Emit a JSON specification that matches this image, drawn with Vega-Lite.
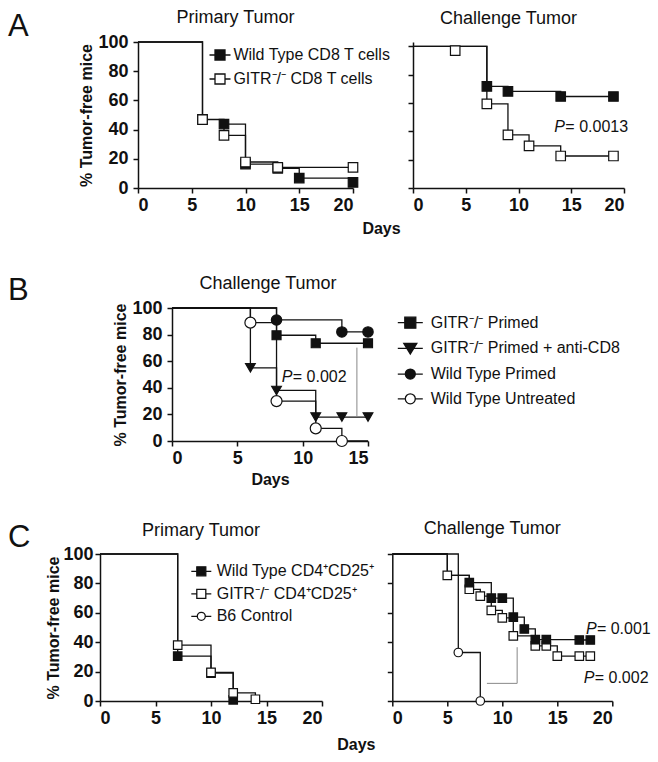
{
"$schema":"https://vega.github.io/schema/vega-lite/v6.json",
"padding":{"left":8,"top":9,"right":5,"bottom":5},
"background":"white",
"config":{
 "view":{"stroke":null},
 "font":"Liberation Sans",
 "axis":{"domainColor":"#111","domainWidth":1.5,"tickColor":"#111","tickWidth":1.5,"tickSize":5,"labelFont":"Liberation Sans","labelFontSize":18,"labelFontWeight":"bold","labelColor":"#111","titleFont":"Liberation Sans","titleFontSize":16,"titleFontWeight":"bold","titleColor":"#111","grid":false,"labelPadding":3},
 "axisY":{"labelPadding":5,"titlePadding":3},
 "title":{"font":"Liberation Sans","fontSize":18,"fontWeight":"normal","color":"#111"},
 "legend":{"labelFont":"Liberation Sans","labelFontSize":16,"labelColor":"#111","symbolStrokeWidth":1.3,"padding":0,"labelLimit":320}
},
"datasets":{
 "aL":[
  {"series":"Wild Type CD8 T cells","day":0,"pct":100,"kind":"ln"},
  {"series":"Wild Type CD8 T cells","day":6,"pct":47,"kind":"both"},
  {"series":"Wild Type CD8 T cells","day":8,"pct":43.8,"kind":"both"},
  {"series":"Wild Type CD8 T cells","day":10,"pct":16.4,"kind":"both"},
  {"series":"Wild Type CD8 T cells","day":13,"pct":13.5,"kind":"both"},
  {"series":"Wild Type CD8 T cells","day":15,"pct":6.8,"kind":"both"},
  {"series":"Wild Type CD8 T cells","day":20,"pct":3.8,"kind":"both"},
  {"series":"GITR⁻/⁻ CD8 T cells","day":0,"pct":100,"kind":"ln"},
  {"series":"GITR⁻/⁻ CD8 T cells","day":6,"pct":46.8,"kind":"both"},
  {"series":"GITR⁻/⁻ CD8 T cells","day":8,"pct":36,"kind":"both"},
  {"series":"GITR⁻/⁻ CD8 T cells","day":10,"pct":17.8,"kind":"both"},
  {"series":"GITR⁻/⁻ CD8 T cells","day":13,"pct":14.1,"kind":"both"},
  {"series":"GITR⁻/⁻ CD8 T cells","day":20,"pct":14.1,"kind":"both"}
 ],
 "aR":[
  {"series":"Wild Type CD8 T cells","day":0,"pct":100,"kind":"ln"},
  {"series":"Wild Type CD8 T cells","day":7,"pct":71.7,"kind":"both"},
  {"series":"Wild Type CD8 T cells","day":9,"pct":68.2,"kind":"both"},
  {"series":"Wild Type CD8 T cells","day":14,"pct":64.6,"kind":"both"},
  {"series":"Wild Type CD8 T cells","day":19,"pct":64.6,"kind":"both"},
  {"series":"GITR⁻/⁻ CD8 T cells","day":0,"pct":100,"kind":"ln"},
  {"series":"GITR⁻/⁻ CD8 T cells","day":4,"pct":97,"kind":"pt"},
  {"series":"GITR⁻/⁻ CD8 T cells","day":7,"pct":59.4,"kind":"both"},
  {"series":"GITR⁻/⁻ CD8 T cells","day":9,"pct":37.5,"kind":"both"},
  {"series":"GITR⁻/⁻ CD8 T cells","day":11,"pct":29.7,"kind":"both"},
  {"series":"GITR⁻/⁻ CD8 T cells","day":14,"pct":22.6,"kind":"both"},
  {"series":"GITR⁻/⁻ CD8 T cells","day":19,"pct":22.6,"kind":"both"}
 ],
 "b":[
  {"series":"GITR⁻/⁻ Primed","day":0,"pct":100,"kind":"ln"},
  {"series":"GITR⁻/⁻ Primed","day":8,"pct":79.5,"kind":"both"},
  {"series":"GITR⁻/⁻ Primed","day":11,"pct":73.5,"kind":"both"},
  {"series":"GITR⁻/⁻ Primed","day":15,"pct":73.5,"kind":"both"},
  {"series":"GITR⁻/⁻ Primed + anti-CD8","day":0,"pct":100,"kind":"ln"},
  {"series":"GITR⁻/⁻ Primed + anti-CD8","day":6,"pct":55,"kind":"both"},
  {"series":"GITR⁻/⁻ Primed + anti-CD8","day":8,"pct":38,"kind":"both"},
  {"series":"GITR⁻/⁻ Primed + anti-CD8","day":11,"pct":18,"kind":"both"},
  {"series":"GITR⁻/⁻ Primed + anti-CD8","day":13,"pct":18,"kind":"both"},
  {"series":"GITR⁻/⁻ Primed + anti-CD8","day":15,"pct":18,"kind":"both"},
  {"series":"Wild Type Primed","day":0,"pct":100,"kind":"ln"},
  {"series":"Wild Type Primed","day":8,"pct":91,"kind":"both"},
  {"series":"Wild Type Primed","day":13,"pct":82,"kind":"both"},
  {"series":"Wild Type Primed","day":15,"pct":82,"kind":"both"},
  {"series":"Wild Type Untreated","day":0,"pct":100,"kind":"ln"},
  {"series":"Wild Type Untreated","day":6,"pct":89,"kind":"both"},
  {"series":"Wild Type Untreated","day":8,"pct":30,"kind":"both"},
  {"series":"Wild Type Untreated","day":11,"pct":9.5,"kind":"both"},
  {"series":"Wild Type Untreated","day":13,"pct":0,"kind":"both"},
  {"series":"Wild Type Untreated","day":15,"pct":0,"kind":"ln"}
 ],
 "cL":[
  {"series":"Wild Type CD4⁺CD25⁺","day":0,"pct":100,"kind":"ln"},
  {"series":"Wild Type CD4⁺CD25⁺","day":7,"pct":30.5,"kind":"both"},
  {"series":"Wild Type CD4⁺CD25⁺","day":10,"pct":19,"kind":"both"},
  {"series":"Wild Type CD4⁺CD25⁺","day":12,"pct":0.8,"kind":"both"},
  {"series":"GITR⁻/⁻ CD4⁺CD25⁺","day":0,"pct":100,"kind":"ln"},
  {"series":"GITR⁻/⁻ CD4⁺CD25⁺","day":7,"pct":38,"kind":"both"},
  {"series":"GITR⁻/⁻ CD4⁺CD25⁺","day":10,"pct":19.5,"kind":"both"},
  {"series":"GITR⁻/⁻ CD4⁺CD25⁺","day":12,"pct":5.5,"kind":"both"},
  {"series":"GITR⁻/⁻ CD4⁺CD25⁺","day":14,"pct":1.2,"kind":"both"}
 ],
 "cR":[
  {"series":"B6 Control","day":0,"pct":100,"kind":"ln"},
  {"series":"B6 Control","day":6,"pct":33,"kind":"both"},
  {"series":"B6 Control","day":8,"pct":0,"kind":"both"},
  {"series":"GITR⁻/⁻ CD4⁺CD25⁺","day":0,"pct":100,"kind":"ln"},
  {"series":"GITR⁻/⁻ CD4⁺CD25⁺","day":5,"pct":85.5,"kind":"both"},
  {"series":"GITR⁻/⁻ CD4⁺CD25⁺","day":7,"pct":76,"kind":"both"},
  {"series":"GITR⁻/⁻ CD4⁺CD25⁺","day":8,"pct":71.3,"kind":"both"},
  {"series":"GITR⁻/⁻ CD4⁺CD25⁺","day":9,"pct":61.6,"kind":"both"},
  {"series":"GITR⁻/⁻ CD4⁺CD25⁺","day":10,"pct":56.6,"kind":"both"},
  {"series":"GITR⁻/⁻ CD4⁺CD25⁺","day":11,"pct":44.3,"kind":"both"},
  {"series":"GITR⁻/⁻ CD4⁺CD25⁺","day":13,"pct":37.5,"kind":"both"},
  {"series":"GITR⁻/⁻ CD4⁺CD25⁺","day":14,"pct":37.5,"kind":"both"},
  {"series":"GITR⁻/⁻ CD4⁺CD25⁺","day":15,"pct":30.5,"kind":"both"},
  {"series":"GITR⁻/⁻ CD4⁺CD25⁺","day":17,"pct":30.5,"kind":"both"},
  {"series":"GITR⁻/⁻ CD4⁺CD25⁺","day":18,"pct":30.5,"kind":"both"},
  {"series":"Wild Type CD4⁺CD25⁺","day":0,"pct":100,"kind":"ln"},
  {"series":"Wild Type CD4⁺CD25⁺","day":5,"pct":85.5,"kind":"ln"},
  {"series":"Wild Type CD4⁺CD25⁺","day":7,"pct":80.5,"kind":"both"},
  {"series":"Wild Type CD4⁺CD25⁺","day":9,"pct":70,"kind":"both"},
  {"series":"Wild Type CD4⁺CD25⁺","day":10,"pct":70,"kind":"both"},
  {"series":"Wild Type CD4⁺CD25⁺","day":11,"pct":57,"kind":"both"},
  {"series":"Wild Type CD4⁺CD25⁺","day":12,"pct":49,"kind":"both"},
  {"series":"Wild Type CD4⁺CD25⁺","day":13,"pct":41.7,"kind":"both"},
  {"series":"Wild Type CD4⁺CD25⁺","day":14,"pct":41.7,"kind":"both"},
  {"series":"Wild Type CD4⁺CD25⁺","day":17,"pct":41.5,"kind":"both"},
  {"series":"Wild Type CD4⁺CD25⁺","day":18,"pct":41.5,"kind":"both"}
 ],
 "pA":[{"day":13.4,"pct":43.4,"rest":"= 0.0013"}],
 "pB":[{"day":8.4,"pct":48,"rest":"= 0.002"}],
 "pC":[{"day":17.6,"pct":48.9,"rest":"= 0.001"},{"day":17.4,"pct":15.5,"rest":"= 0.002"}],
 "brB":[{"day":14.15,"day2":14.15,"pct":70.2,"pct2":18.8}],
 "brC":[{"day":11.35,"day2":11.35,"pct":36.6,"pct2":12},{"day":8.6,"day2":11.35,"pct":12,"pct2":12}]
},
"spacing":33,
"resolve":{"scale":{"shape":"independent","fill":"independent","size":"independent","stroke":"independent"},"legend":{"shape":"independent","fill":"independent","size":"independent","stroke":"independent"}},
"vconcat":[
 {
 "spacing":38,
 "resolve":{"scale":{"shape":"independent","fill":"independent","size":"independent","stroke":"independent"},"legend":{"shape":"independent","fill":"independent","size":"independent","stroke":"independent"}},
 "vconcat":[
 {
  "spacing":0,
  "bounds":"flush",
  "resolve":{"scale":{"shape":"independent","fill":"independent","size":"independent","stroke":"independent"},"legend":{"shape":"independent","fill":"independent","size":"independent","stroke":"independent"}},
  "hconcat":[
   {"width":129.3,"height":20,"data":{"values":[]},"mark":"point","title":{"text":"A","anchor":"start","frame":"group","fontSize":31,"fontWeight":"normal","offset":-1}},
   {
   "title":{"text":"Days","orient":"bottom","fontSize":16,"fontWeight":"bold","offset":7,"frame":"bounds","anchor":"middle","dx":28},
   "spacing":60,
   "bounds":"flush",
   "resolve":{"scale":{"shape":"independent","fill":"independent","size":"independent","stroke":"independent"},"legend":{"shape":"independent","fill":"independent","size":"independent","stroke":"independent"}},
   "hconcat":[
    {
     "width":215,"height":146,
     "title":{"text":"Primary Tumor","offset":6,"frame":"group","dx":-10},
     "data":{"name":"aL"},
     "encoding":{
      "x":{"field":"day","type":"quantitative","scale":{"domain":[0,20],"nice":false},"axis":{"values":[0,5,10,15,20],"title":null}},
      "y":{"field":"pct","type":"quantitative","scale":{"domain":[0,100],"nice":false},"axis":{"values":[0,20,40,60,80,100],"title":"% Tumor-free mice"}}
     },
     "layer":[
      {"transform":[{"filter":"datum.kind != 'pt'"}],"mark":{"type":"line","interpolate":"step-after","color":"#111","strokeWidth":1.3},"encoding":{"detail":{"field":"series","type":"nominal"}}},
      {"transform":[{"filter":"datum.kind != 'ln'"}],"mark":{"type":"point","filled":true,"stroke":"#111","strokeWidth":1.2,"opacity":1},
       "encoding":{
        "shape":{"field":"series","type":"nominal","scale":{"domain":["Wild Type CD8 T cells","GITR⁻/⁻ CD8 T cells"],"range":["square","square"]},"legend":null},
        "fill":{"field":"series","type":"nominal","scale":{"domain":["Wild Type CD8 T cells","GITR⁻/⁻ CD8 T cells"],"range":["#111","white"]},"legend":null},
        "size":{"field":"series","type":"nominal","scale":{"domain":["Wild Type CD8 T cells","GITR⁻/⁻ CD8 T cells"],"range":[90,90]},"legend":null}
       }},
      {"transform":[{"filter":"false"}],"mark":{"type":"point","filled":false,"strokeWidth":1.3,"opacity":1},
       "encoding":{
        "shape":{"field":"series","type":"nominal","title":null,"scale":{"domain":["Wild Type CD8 T cells","GITR⁻/⁻ CD8 T cells"],"range":["M-2.1,0H-1M1,0H2.1M-1,-1H1V1H-1Z","M-2.1,0H-1M1,0H2.1M-1,-1H1V1H-1Z"]},"legend":{"orient":"none","legendX":74,"legendY":5,"labelOffset":5.4,"rowPadding":8,"symbolSize":100,"symbolStrokeWidth":1.3}},
        "fill":{"field":"series","type":"nominal","title":null,"scale":{"domain":["Wild Type CD8 T cells","GITR⁻/⁻ CD8 T cells"],"range":["#111","white"]},"legend":{"orient":"none","legendX":74,"legendY":5,"labelOffset":5.4,"rowPadding":8,"symbolSize":100,"symbolStrokeWidth":1.3}},
        "stroke":{"field":"series","type":"nominal","title":null,"scale":{"domain":["Wild Type CD8 T cells","GITR⁻/⁻ CD8 T cells"],"range":["#111","#111"]},"legend":{"orient":"none","legendX":74,"legendY":5,"labelOffset":5.4,"rowPadding":8,"symbolSize":100,"symbolStrokeWidth":1.3}}
       }}
     ],
     "resolve":{"scale":{"shape":"independent","fill":"independent","size":"independent","stroke":"independent"}}
    },
    {
     "width":211,"height":146,
     "title":{"text":"Challenge Tumor","offset":14,"frame":"group","dx":-10},
     "encoding":{
      "x":{"field":"day","type":"quantitative","scale":{"domain":[0,20],"nice":false},"axis":{"values":[0,5,10,15,20],"title":null}},
      "y":{"field":"pct","type":"quantitative","scale":{"domain":[0,103.1],"nice":false},"axis":{"values":[0,20,40,60,80,100],"title":null,"labels":false}}
     },
     "layer":[
      {"data":{"name":"aR"},"transform":[{"filter":"datum.kind != 'pt'"}],"mark":{"type":"line","interpolate":"step-after","color":"#111","strokeWidth":1.3},"encoding":{"detail":{"field":"series","type":"nominal"}}},
      {"data":{"name":"aR"},"transform":[{"filter":"datum.kind != 'ln'"}],"mark":{"type":"point","filled":true,"stroke":"#111","strokeWidth":1.2,"opacity":1},
       "encoding":{
        "shape":{"field":"series","type":"nominal","scale":{"domain":["Wild Type CD8 T cells","GITR⁻/⁻ CD8 T cells"],"range":["square","square"]},"legend":null},
        "fill":{"field":"series","type":"nominal","scale":{"domain":["Wild Type CD8 T cells","GITR⁻/⁻ CD8 T cells"],"range":["#111","white"]},"legend":null},
        "size":{"field":"series","type":"nominal","scale":{"domain":["Wild Type CD8 T cells","GITR⁻/⁻ CD8 T cells"],"range":[90,90]},"legend":null}
       }},
      {"data":{"name":"pA"},"mark":{"type":"text","text":"P","fontStyle":"italic","align":"left","fontSize":16,"font":"Liberation Sans","color":"#111"}},
      {"data":{"name":"pA"},"mark":{"type":"text","align":"left","dx":11,"fontSize":16,"font":"Liberation Sans","color":"#111"},"encoding":{"text":{"field":"rest"}}}
     ]
    }
   ]
  }
  ]
 },
 {
  "spacing":0,
  "bounds":"flush",
  "resolve":{"scale":{"shape":"independent","fill":"independent","size":"independent","stroke":"independent"},"legend":{"shape":"independent","fill":"independent","size":"independent","stroke":"independent"}},
  "hconcat":[
   {"width":164,"height":20,"data":{"values":[]},"mark":"point","title":{"text":"B","anchor":"start","frame":"group","fontSize":31,"fontWeight":"normal","offset":1}},
   {
   "width":196,"height":133,
   "title":{"text":"Challenge Tumor","offset":6,"frame":"group","dx":-2},
   "encoding":{
    "x":{"field":"day","type":"quantitative","scale":{"domain":[0,15],"nice":false},"axis":{"values":[0,5,10,15],"title":"Days"}},
    "y":{"field":"pct","type":"quantitative","scale":{"domain":[0,100],"nice":false},"axis":{"values":[0,20,40,60,80,100],"title":"% Tumor-free mice"}}
   },
   "layer":[
    {"data":{"name":"brB"},"mark":{"type":"rule","color":"#888","strokeWidth":1},"encoding":{"x2":{"field":"day2"},"y2":{"field":"pct2"}}},
    {"data":{"name":"b"},"transform":[{"filter":"datum.kind != 'pt'"}],"mark":{"type":"line","interpolate":"step-after","color":"#111","strokeWidth":1.3},"encoding":{"detail":{"field":"series","type":"nominal"}}},
    {"data":{"name":"b"},"transform":[{"filter":"datum.kind != 'ln'"}],"mark":{"type":"point","filled":true,"stroke":"#111","strokeWidth":1.2,"opacity":1},
     "encoding":{
      "shape":{"field":"series","type":"nominal","scale":{"domain":["GITR⁻/⁻ Primed","GITR⁻/⁻ Primed + anti-CD8","Wild Type Primed","Wild Type Untreated"],"range":["square","triangle-down","circle","circle"]},"legend":null},
      "fill":{"field":"series","type":"nominal","scale":{"domain":["GITR⁻/⁻ Primed","GITR⁻/⁻ Primed + anti-CD8","Wild Type Primed","Wild Type Untreated"],"range":["#111","#111","#111","white"]},"legend":null},
      "size":{"field":"series","type":"nominal","scale":{"domain":["GITR⁻/⁻ Primed","GITR⁻/⁻ Primed + anti-CD8","Wild Type Primed","Wild Type Untreated"],"range":[81,121,45,45]},"legend":null}
     }},
    {"data":{"name":"b"},"transform":[{"filter":"false"}],"mark":{"type":"point","filled":false,"strokeWidth":1.3,"opacity":1},
     "encoding":{
      "shape":{"field":"series","type":"nominal","title":null,"scale":{"domain":["GITR⁻/⁻ Primed","GITR⁻/⁻ Primed + anti-CD8","Wild Type Primed","Wild Type Untreated"],"range":["M-2.5,0H-1.1M1.1,0H2.5M-1.1,-1.1H1.1V1.1H-1.1Z","M-2.5,0H-0.68M0.68,0H2.5M-1.3,-1H1.3L0,1.1Z","M-2.5,0H-1M1,0H2.5M-1,0A1,1,0,1,0,1,0A1,1,0,1,0,-1,0Z","M-2.5,0H-1M1,0H2.5M-1,0A1,1,0,1,0,1,0A1,1,0,1,0,-1,0Z"]},"legend":{"orient":"none","legendX":230.3,"legendY":6.7,"labelOffset":12.4,"rowPadding":8.7,"symbolSize":100,"symbolStrokeWidth":1.3}},
      "fill":{"field":"series","type":"nominal","title":null,"scale":{"domain":["GITR⁻/⁻ Primed","GITR⁻/⁻ Primed + anti-CD8","Wild Type Primed","Wild Type Untreated"],"range":["#111","#111","#111","white"]},"legend":{"orient":"none","legendX":230.3,"legendY":6.7,"labelOffset":12.4,"rowPadding":8.7,"symbolSize":100,"symbolStrokeWidth":1.3}},
      "stroke":{"field":"series","type":"nominal","title":null,"scale":{"domain":["GITR⁻/⁻ Primed","GITR⁻/⁻ Primed + anti-CD8","Wild Type Primed","Wild Type Untreated"],"range":["#111","#111","#111","#111"]},"legend":{"orient":"none","legendX":230.3,"legendY":6.7,"labelOffset":12.4,"rowPadding":8.7,"symbolSize":100,"symbolStrokeWidth":1.3}}
     }},
    {"data":{"name":"pB"},"mark":{"type":"text","text":"P","fontStyle":"italic","align":"left","fontSize":16,"font":"Liberation Sans","color":"#111"}},
    {"data":{"name":"pB"},"mark":{"type":"text","align":"left","dx":11,"fontSize":16,"font":"Liberation Sans","color":"#111"},"encoding":{"text":{"field":"rest"}}}
   ],
   "resolve":{"scale":{"shape":"independent","fill":"independent","size":"independent","stroke":"independent"}}
  }
  ]
 }
 ]
 },
 {
  "spacing":0,
  "bounds":"flush",
  "resolve":{"scale":{"shape":"independent","fill":"independent","size":"independent","stroke":"independent"},"legend":{"shape":"independent","fill":"independent","size":"independent","stroke":"independent"}},
  "hconcat":[
   {"width":92,"height":20,"data":{"values":[]},"mark":"point","title":{"text":"C","anchor":"start","frame":"group","fontSize":31,"fontWeight":"normal","offset":0}},
   {
   "title":{"text":"Days","orient":"bottom","fontSize":16,"fontWeight":"bold","offset":10,"frame":"bounds","anchor":"middle","dx":8},
   "spacing":70.3,
   "bounds":"flush",
   "resolve":{"scale":{"shape":"independent","fill":"independent","size":"independent","stroke":"independent"},"legend":{"shape":"independent","fill":"independent","size":"independent","stroke":"independent"}},
   "hconcat":[
    {
     "width":222,"height":147,
     "title":{"text":"Primary Tumor","offset":5,"frame":"group","dx":-10},
     "encoding":{
      "x":{"field":"day","type":"quantitative","scale":{"domain":[0,20],"nice":false},"axis":{"values":[0,5,10,15,20],"title":null}},
      "y":{"field":"pct","type":"quantitative","scale":{"domain":[0,100],"nice":false},"axis":{"values":[0,20,40,60,80,100],"title":"% Tumor-free mice","labelPadding":2,"titlePadding":1}}
     },
     "layer":[
      {"data":{"name":"cL"},"transform":[{"filter":"datum.kind != 'pt'"}],"mark":{"type":"line","interpolate":"step-after","color":"#111","strokeWidth":1.3},"encoding":{"detail":{"field":"series","type":"nominal"}}},
      {"data":{"name":"cL"},"transform":[{"filter":"datum.kind != 'ln'"}],"mark":{"type":"point","filled":true,"stroke":"#111","strokeWidth":1.2,"opacity":1},
       "encoding":{
        "shape":{"field":"series","type":"nominal","scale":{"domain":["Wild Type CD4⁺CD25⁺","GITR⁻/⁻ CD4⁺CD25⁺","B6 Control"],"range":["square","square","circle"]},"legend":null},
        "fill":{"field":"series","type":"nominal","scale":{"domain":["Wild Type CD4⁺CD25⁺","GITR⁻/⁻ CD4⁺CD25⁺","B6 Control"],"range":["#111","white","white"]},"legend":null},
        "size":{"field":"series","type":"nominal","scale":{"domain":["Wild Type CD4⁺CD25⁺","GITR⁻/⁻ CD4⁺CD25⁺","B6 Control"],"range":[72,72,69]},"legend":null}
       }},
      {"data":{"name":"cL"},"transform":[{"filter":"false"}],"mark":{"type":"point","filled":false,"strokeWidth":1.3,"opacity":1},
       "encoding":{
        "shape":{"field":"series","type":"nominal","title":null,"scale":{"domain":["Wild Type CD4⁺CD25⁺","GITR⁻/⁻ CD4⁺CD25⁺","B6 Control"],"range":["M-2,0H-0.9M0.9,0H2M-0.9,-0.9H0.9V0.9H-0.9Z","M-2,0H-0.9M0.9,0H2M-0.9,-0.9H0.9V0.9H-0.9Z","M-2,0H-0.8M0.8,0H2M-0.8,0A0.8,0.8,0,1,0,0.8,0A0.8,0.8,0,1,0,-0.8,0Z"]},"legend":{"orient":"none","legendX":93.3,"legendY":9.3,"labelOffset":7.4,"rowPadding":6.5,"symbolSize":100,"symbolStrokeWidth":1.3}},
        "fill":{"field":"series","type":"nominal","title":null,"scale":{"domain":["Wild Type CD4⁺CD25⁺","GITR⁻/⁻ CD4⁺CD25⁺","B6 Control"],"range":["#111","white","white"]},"legend":{"orient":"none","legendX":93.3,"legendY":9.3,"labelOffset":7.4,"rowPadding":6.5,"symbolSize":100,"symbolStrokeWidth":1.3}},
        "stroke":{"field":"series","type":"nominal","title":null,"scale":{"domain":["Wild Type CD4⁺CD25⁺","GITR⁻/⁻ CD4⁺CD25⁺","B6 Control"],"range":["#111","#111","#111"]},"legend":{"orient":"none","legendX":93.3,"legendY":9.3,"labelOffset":7.4,"rowPadding":6.5,"symbolSize":100,"symbolStrokeWidth":1.3}}
       }}
     ],
     "resolve":{"scale":{"shape":"independent","fill":"independent","size":"independent","stroke":"independent"}}
    },
    {
     "width":220,"height":147,
     "title":{"text":"Challenge Tumor","offset":13,"frame":"group","dx":-10},
     "encoding":{
      "x":{"field":"day","type":"quantitative","scale":{"domain":[0,20],"nice":false},"axis":{"values":[0,5,10,15,20],"title":null}},
      "y":{"field":"pct","type":"quantitative","scale":{"domain":[0,100],"nice":false},"axis":{"values":[0,20,40,60,80,100],"title":null,"labels":false}}
     },
     "layer":[
      {"data":{"name":"brC"},"mark":{"type":"rule","color":"#888","strokeWidth":1},"encoding":{"x2":{"field":"day2"},"y2":{"field":"pct2"}}},
      {"data":{"name":"cR"},"transform":[{"filter":"datum.kind != 'pt'"}],"mark":{"type":"line","interpolate":"step-after","color":"#111","strokeWidth":1.3},"encoding":{"detail":{"field":"series","type":"nominal"}}},
      {"data":{"name":"cR"},"transform":[{"filter":"datum.kind != 'ln'"}],"mark":{"type":"point","filled":true,"stroke":"#111","strokeWidth":1.2,"opacity":1},
       "encoding":{
        "shape":{"field":"series","type":"nominal","scale":{"domain":["Wild Type CD4⁺CD25⁺","GITR⁻/⁻ CD4⁺CD25⁺","B6 Control"],"range":["square","square","circle"]},"legend":null},
        "fill":{"field":"series","type":"nominal","scale":{"domain":["Wild Type CD4⁺CD25⁺","GITR⁻/⁻ CD4⁺CD25⁺","B6 Control"],"range":["#111","white","white"]},"legend":null},
        "size":{"field":"series","type":"nominal","scale":{"domain":["Wild Type CD4⁺CD25⁺","GITR⁻/⁻ CD4⁺CD25⁺","B6 Control"],"range":[72,72,69]},"legend":null}
       }},
      {"data":{"name":"pC"},"mark":{"type":"text","text":"P","fontStyle":"italic","align":"left","fontSize":16,"font":"Liberation Sans","color":"#111"}},
      {"data":{"name":"pC"},"mark":{"type":"text","align":"left","dx":11,"fontSize":16,"font":"Liberation Sans","color":"#111"},"encoding":{"text":{"field":"rest"}}}
     ]
    }
   ]
  }
  ]
 }
]
}
